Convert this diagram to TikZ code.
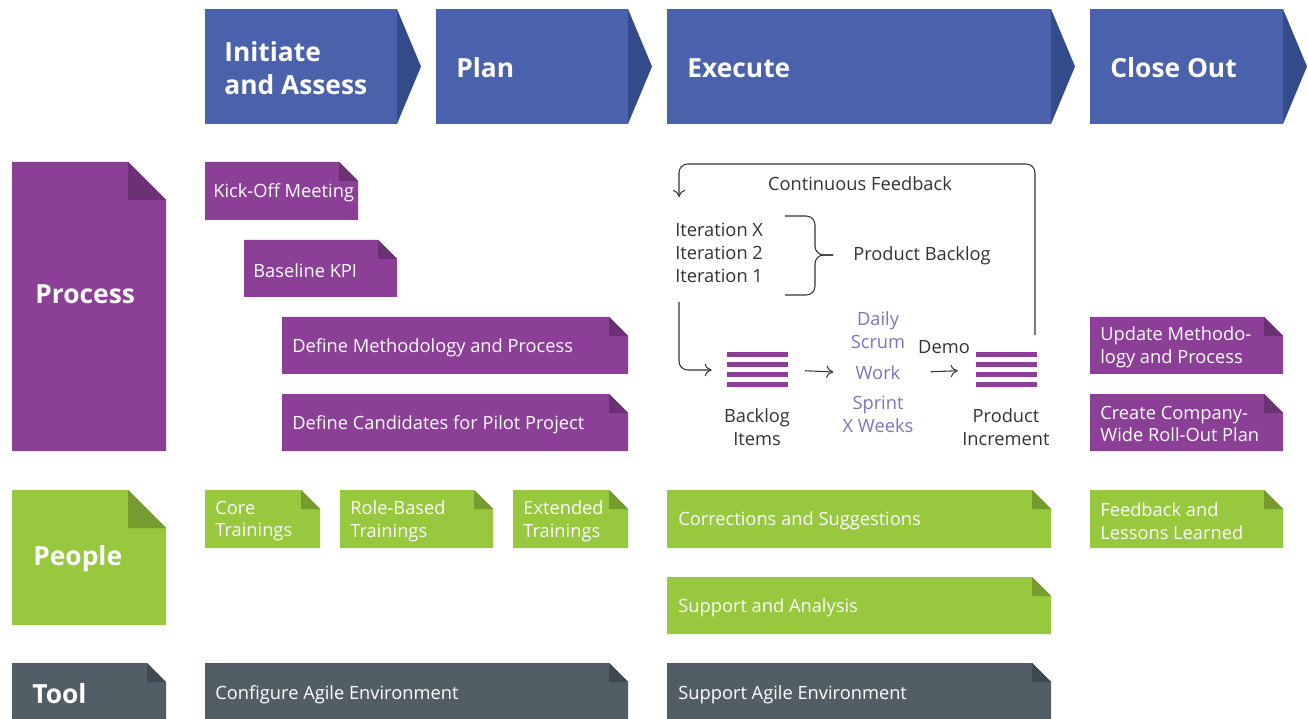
\documentclass[tikz,border=0pt]{standalone}
\usepackage{fontspec}
\setmainfont{Open Sans}
\usetikzlibrary{arrows.meta}

\definecolor{phase}{RGB}{74,97,171}
\definecolor{phasedark}{RGB}{52,75,138}
\definecolor{proc}{RGB}{139,63,150}
\definecolor{ppl}{RGB}{151,200,62}
\definecolor{tool}{RGB}{82,94,102}
\definecolor{scrum}{RGB}{125,115,190}
\definecolor{ink}{RGB}{51,51,51}

\tikzset{
  boxtext/.style={anchor=west, text=white, align=left, inner sep=0pt, font=\fontsize{10.4}{13}\selectfont},
  rowtitle/.style={anchor=west, text=white, inner sep=0pt, font=\bfseries\fontsize{15}{19}\selectfont},
  phasetitle/.style={anchor=west, text=white, align=left, inner sep=0pt, font=\bfseries\fontsize{15}{19}\selectfont},
  lbl/.style={text=ink, align=center, inner sep=0pt, font=\fontsize{10.4}{13}\selectfont},
  scrumtext/.style={lbl, text=scrum},
  stack/.style={minimum width=1.22cm, minimum height=0.7cm, inner sep=0pt},
  flow/.style={-{To[length=4pt,width=7pt]}, ink, line width=0.6pt},
}

% note with a folded top right corner: colour, x1, y1, x2, y2, fold
\newcommand{\foldbox}[6]{%
  \fill[#1] (#2,#3) -- ({#4-#6},#3) -- (#4,{#3+#6}) -- (#4,#5) -- (#2,#5) -- cycle;
  \fill[#1!78!black] ({#4-#6},#3) -- (#4,{#3+#6}) -- ({#4-#6},{#3+#6}) -- cycle;
}
% phase arrow in the header: x1, x2
\newcommand{\chevron}[2]{%
  \fill[phase] (#1,9) rectangle (#2,124);
  \fill[phasedark] (#2,9) -- ({#2+24},66.5) -- (#2,124) -- cycle;
}

\begin{document}
\begin{tikzpicture}[x=0.02cm, y=-0.02cm]
\useasboundingbox (0,0) rectangle (1308,719);
\clip (0,0) rectangle (1308,719);

% phases
\chevron{205}{397}
\chevron{436}{628}
\chevron{667}{1051}
\chevron{1090}{1283}
\node[phasetitle] (initiate) at (224,68) {Initiate\\and Assess};
\node[phasetitle] (plan) at (456,68) {Plan};
\node[phasetitle] (execute) at (687,68) {Execute};
\node[phasetitle] (closeout) at (1110,68) {Close Out};

% rows
\foldbox{proc}{12}{162}{166}{451}{38}
\foldbox{ppl}{12}{490}{166}{625}{38}
\foldbox{tool}{12}{663}{166}{725}{19}
\node[rowtitle] (process) at (35,294) {Process};
\node[rowtitle] (people) at (33,559) {People};
\node[rowtitle] (tooltitle) at (32,694) {Tool};

% process
\foldbox{proc}{205}{162}{358}{220}{19}
\node[boxtext] (kickoff) at (213,193) {Kick-Off Meeting};
\foldbox{proc}{244}{240}{397}{297}{19}
\node[boxtext] (kpi) at (253,270.5) {Baseline KPI};
\foldbox{proc}{282}{317}{628}{374}{19}
\node[boxtext] (method) at (292,347.5) {Define Methodology and Process};
\foldbox{proc}{282}{394}{628}{451}{19}
\node[boxtext] (pilot) at (292,424.5) {Define Candidates for Pilot Project};
\foldbox{proc}{1090}{317}{1283}{374}{19}
\node[boxtext] (update) at (1100,347) {Update Methodo-\\logy and Process};
\foldbox{proc}{1090}{394}{1283}{451}{19}
\node[boxtext] (rollout) at (1100,424) {Create Company-\\Wide Roll-Out Plan};

% people
\foldbox{ppl}{205}{490}{320}{548}{19}
\node[boxtext] (core) at (215,521) {Core\\Trainings};
\foldbox{ppl}{340}{490}{493}{548}{19}
\node[boxtext] (role) at (350,521) {Role-Based\\Trainings};
\foldbox{ppl}{513}{490}{628}{548}{19}
\node[boxtext] (extended) at (523,521) {Extended\\Trainings};
\foldbox{ppl}{667}{490}{1051}{548}{19}
\node[boxtext] (corrections) at (678,521) {Corrections and Suggestions};
\foldbox{ppl}{667}{577}{1051}{634}{19}
\node[boxtext] (analysis) at (678,607.5) {Support and Analysis};
\foldbox{ppl}{1090}{490}{1283}{548}{19}
\node[boxtext] (lessons) at (1100,521) {Feedback and\\Lessons Learned};

% tool
\foldbox{tool}{205}{663}{628}{725}{19}
\node[boxtext] (configure) at (215,695) {Configure Agile Environment};
\foldbox{tool}{667}{663}{1051}{725}{19}
\node[boxtext] (support) at (678,695) {Support Agile Environment};

% sprint cycle
\node[lbl] (feedback) at (860,184) {Continuous Feedback};
\node[lbl, anchor=west, align=left] (iters) at (675,253) {Iteration X\\Iteration 2\\Iteration 1};
\node[lbl, anchor=west] (backlog) at (853,255.5) {Product Backlog};
\coordinate (bracetip) at (833,255);
\draw[ink, line width=0.6pt, rounded corners=5pt] (785,216) -- (815,216) -- (815,255) -- (bracetip);
\draw[ink, line width=0.6pt, rounded corners=5pt] (785,295) -- (815,295) -- (815,255) -- (bracetip);

\node[stack] (blicon) at (757.5,370) {};
\node[stack] (picon) at (1006.5,370) {};
\foreach \y in {355,365,375,385} {
  \fill[proc] (727,{\y-2.5}) rectangle (788,{\y+2.5});
  \fill[proc] (976,{\y-2.5}) rectangle (1037,{\y+2.5});
}
\node[lbl] (blitems) at (757,427.5) {Backlog\\Items};
\node[lbl] (pincrement) at (1006,427.5) {Product\\Increment};
\node[scrumtext] (daily) at (878,330.5) {Daily\\Scrum};
\node[scrumtext] (work) at (878,373) {Work};
\node[scrumtext] (sprint) at (878,414.5) {Sprint\\X Weeks};
\node[lbl] (demo) at (944,347) {Demo};

\coordinate (fbfrom) at (1035,335);
\coordinate (fbturn) at (679,164);
\coordinate (fbto) at (679,197);
\coordinate (blfrom) at (679,302);
\draw[flow, rounded corners=5pt] (fbfrom) |- (fbturn) -- (fbto);
\draw[flow, rounded corners=5pt, shorten >=8.5pt] (blfrom) |- (blicon.west);
\draw[flow, shorten <=9.6pt, shorten >=12.5pt] (blicon.east) -- (work.west);
\draw[flow, shorten <=17pt, shorten >=10.2pt] (work.east) -- (picon.west);
\end{tikzpicture}
\end{document}
